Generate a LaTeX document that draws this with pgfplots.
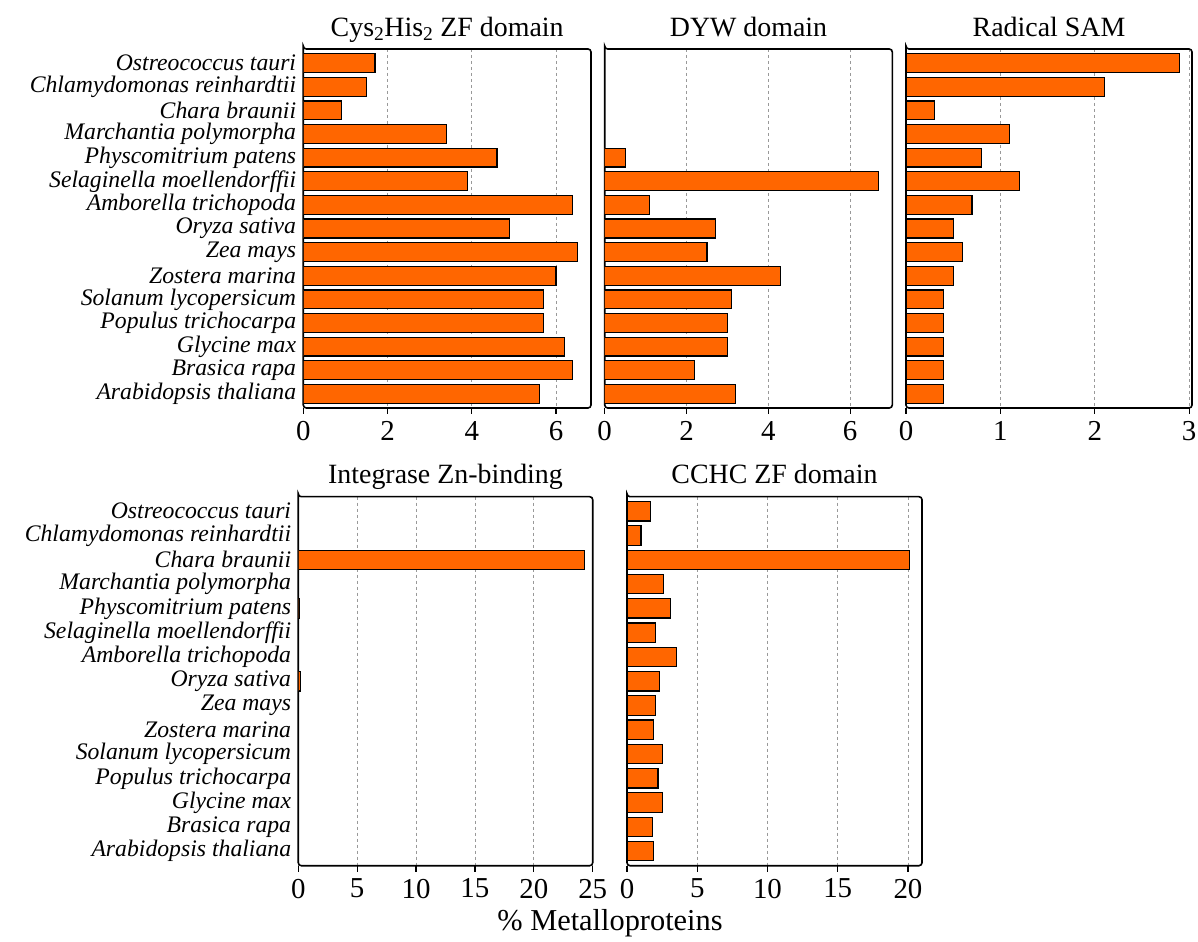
\documentclass[border=0pt]{standalone}
\usepackage{fontspec}
\setmainfont{Liberation Serif}
\usepackage{pgfplots}
\pgfplotsset{compat=1.18}
\definecolor{barorange}{RGB}{255,102,0}
\pgfplotsset{
 panel/.style={
  xbar, scale only axis, anchor=south west,
  y dir=reverse, ymin=-0.6, ymax=14.6, ytick={0,...,14},
  xmin=0, bar width=0.8,
  ytick style={draw=none},
  xtick pos=bottom, tick align=outside, major tick length=6bp,
  xtick style={black, line width=1.2bp},
  xmajorgrids, grid style={dash pattern=on 3bp off 3bp, gray!80, line width=0.8bp},
  axis line style={line width=1.6bp, rounded corners=3bp},
  xticklabel style={font=\fontsize{29}{29}\selectfont, inner ysep=2bp, yshift=-5bp},
  yticklabel style={font=\fontsize{23.8}{23.8}\selectfont\itshape, inner ysep=0pt, inner xsep=1bp},
  /pgf/number format/assume math mode=true,
  title style={font=\fontsize{28}{28}\selectfont, at={(0.5,1)}, anchor=base, yshift=7bp},
  yticklabels={},
 },
 withlabels/.style={yticklabels={Ostreococcus tauri, Chlamydomonas reinhardtii, Chara braunii, Marchantia polymorpha, Physcomitrium patens, Selaginella moellendorffii, Amborella trichopoda, Oryza sativa, Zea mays, Zostera marina, Solanum lycopersicum, Populus trichocarpa, Glycine max, Brasica rapa, Arabidopsis thaliana}},
 barstyle/.style={fill=barorange, draw=black, line width=1.2bp},
}
\begin{document}
\begin{tikzpicture}
\useasboundingbox (0,0) rectangle (1198bp,942bp);
% Panel 1
\begin{axis}[panel, withlabels, at={(303.3bp,534bp)}, width=287.7bp, height=359bp, xmax=6.83, xtick={0,2,4,6},
  title={Cys\textsubscript{2}His\textsubscript{2} ZF domain}]
\addplot[barstyle] coordinates {(1.7,0) (1.5,1) (0.9,2) (3.4,3) (4.6,4) (3.9,5) (6.4,6) (4.9,7) (6.5,8) (6.0,9) (5.7,10) (5.7,11) (6.2,12) (6.4,13) (5.6,14)};
\end{axis}
% Panel 2
\begin{axis}[panel, at={(604.7bp,534bp)}, width=287.6bp, height=359bp, xmax=7.03, xtick={0,2,4,6},
  title={DYW domain}]
\addplot[barstyle] coordinates {(0.5,4) (6.7,5) (1.1,6) (2.7,7) (2.5,8) (4.3,9) (3.1,10) (3.0,11) (3.0,12) (2.2,13) (3.2,14)};
\end{axis}
% Panel 3
\begin{axis}[panel, at={(906bp,534bp)}, width=286bp, height=359bp, xmax=3.03, xtick={0,1,2,3},
  title={Radical SAM}]
\addplot[barstyle] coordinates {(2.9,0) (2.1,1) (0.3,2) (1.1,3) (0.8,4) (1.2,5) (0.7,6) (0.5,7) (0.6,8) (0.5,9) (0.4,10) (0.4,11) (0.4,12) (0.4,13) (0.4,14)};
\end{axis}
% Panel 4
\begin{axis}[panel, withlabels, at={(298.3bp,76.3bp)}, width=294.4bp, height=369bp, xmax=25, xtick={0,5,...,25},
  title={Integrase Zn-binding}]
\addplot[barstyle] coordinates {(24.3,2) (0.1,4) (0.2,7)};
\end{axis}
% Panel 5
\begin{axis}[panel, at={(627bp,76.3bp)}, width=295bp, height=369bp, xmax=21, xtick={0,5,...,20},
  title={CCHC ZF domain}]
\addplot[barstyle] coordinates {(1.7,0) (1.0,1) (20.1,2) (2.6,3) (3.1,4) (2.0,5) (3.5,6) (2.3,7) (2.0,8) (1.9,9) (2.5,10) (2.2,11) (2.5,12) (1.8,13) (1.9,14)};
\end{axis}
\node[anchor=base, font=\fontsize{30.5}{30.5}\selectfont] at (610bp,12bp) {\% Metalloproteins};
\end{tikzpicture}
\end{document}
